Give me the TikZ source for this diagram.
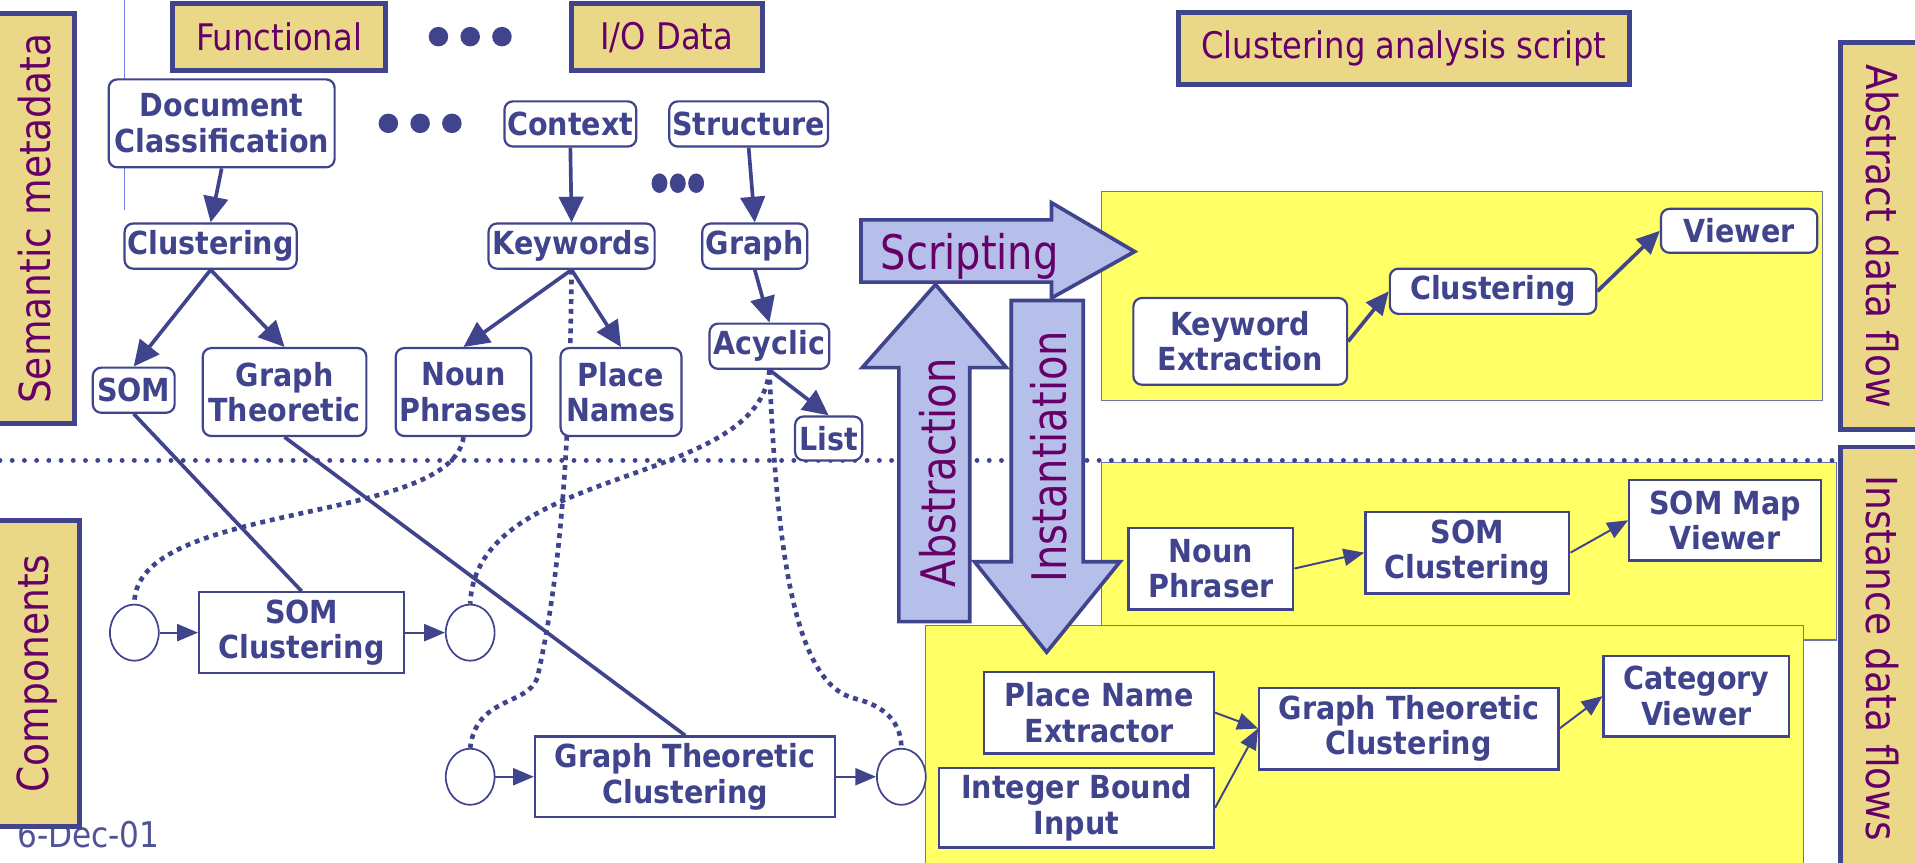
\documentclass[tikz,border=0pt]{standalone}
\usepackage{fontspec}
\usetikzlibrary{arrows.meta,shapes.geometric}
\newfontfamily\lblfont{DejaVu Sans}[FakeStretch=0.88]
\newfontfamily\bigfont{DejaVu Sans}[FakeStretch=0.84]
\newfontfamily\ndfont{DejaVu Sans}[FakeStretch=0.9]
\definecolor{ink}{RGB}{64,68,140}
\definecolor{plum}{RGB}{102,0,102}
\definecolor{labeltan}{RGB}{234,216,136}
\definecolor{lemon}{RGB}{255,255,102}
\definecolor{lav}{RGB}{182,190,234}
\definecolor{paneledge}{RGB}{110,115,175}
\definecolor{rulecol}{RGB}{110,130,225}
\definecolor{datecol}{RGB}{80,84,150}
\pgfdeclarelayer{bg}
\pgfdeclarelayer{wires}
\pgfsetlayers{bg,wires,main}
\begin{document}
\begin{tikzpicture}[x=1pt,y=-1pt,
  snode/.style={draw=ink, line width=1.8pt, fill=white, rounded corners=7pt, text=ink,
    inner sep=0pt, align=center, font={\ndfont\bfseries\fontsize{26}{29}\selectfont}},
  inode/.style={snode, sharp corners},
  toplbl/.style={draw=ink, line width=4pt, fill=labeltan, text=plum, inner sep=0pt,
    font={\lblfont\fontsize{30}{34}\selectfont}},
  sidelbl/.style={draw=ink, line width=4pt, fill=labeltan, text=plum, inner sep=0pt,
    font={\lblfont\fontsize{35}{38}\selectfont}},
  panel/.style={fill=lemon, draw=paneledge, line width=1pt, inner sep=0pt},
  port/.style={ellipse, draw=ink, line width=1.4pt, fill=white, inner sep=0pt,
    minimum width=40pt, minimum height=46pt},
  sarrow/.style={draw=ink, line width=3pt, -{Triangle[length=21pt,width=20pt]}},
  aarrow/.style={draw=ink, line width=3pt, -{Triangle[length=19pt,width=17pt]}},
  tarrow/.style={draw=ink, line width=1.6pt, -{Triangle[length=17pt,width=14pt]}},
  link/.style={draw=ink, line width=3pt},
  wire/.style={draw=ink, line width=3.8pt, dash pattern=on 4pt off 4pt},
  sepline/.style={draw=ink, line width=4pt, line cap=round, dash pattern=on 0pt off 10pt},
  bigarrow/.style={draw=ink, line width=3pt, fill=lav, line join=miter},
  bigtxt/.style={text=plum, inner sep=0pt, font={\bigfont\fontsize{39}{44}\selectfont}},
  dot/.style={fill=ink}]
\path[use as bounding box] (0,0) rectangle (1568,706);

% ---------- background: panels, separator, date ----------
\begin{pgfonlayer}{bg}
  \draw[rulecol, line width=1pt] (102,0) -- (102,172);
  \node[panel, minimum width=590pt, minimum height=171pt] (abspanel) at (1197,242.5) {};
  \node[panel, minimum width=602pt, minimum height=145pt] (instpanelA) at (1203,451.5) {};
  \node[panel, minimum width=719pt, minimum height=200pt] (instpanelB) at (1117.5,612) {};
  \draw[sepline] (0,377) -- (1507,377);
  \node[anchor=base west, inner sep=0pt, text=datecol,
        font={\lblfont\fontsize{29}{32}\selectfont}] (date) at (14,694) {6-Dec-01};
\end{pgfonlayer}

% ---------- side and top labels ----------
\node[sidelbl, rotate=90, minimum width=336pt, minimum height=66pt] (semlbl) at (28,179) {Semantic metadata};
\node[sidelbl, rotate=90, minimum width=251pt, minimum height=70pt] (complbl) at (30,551.5) {Components};
\node[sidelbl, rotate=-90, minimum width=317pt, minimum height=68pt] (abslbl) at (1541,193.5) {Abstract data flow};
\node[sidelbl, rotate=-90, minimum width=346pt, minimum height=68pt] (instlbl) at (1541,539) {Instance data flows};

\node[toplbl, minimum width=175pt, minimum height=55pt] (func) at (228.5,30.5) {Functional};
\node[toplbl, minimum width=156pt, minimum height=55pt] (iodata) at (546,30.5) {I/O Data};
\node[toplbl, minimum width=369pt, minimum height=59pt] (cas) at (1149.5,39.5) {Clustering analysis script};

% ellipsis marks
\fill[dot] (359,30) circle[radius=8pt];
\fill[dot] (385,30) circle[radius=8pt];
\fill[dot] (411,30) circle[radius=8pt];
\fill[dot] (318,101) circle[radius=8pt];
\fill[dot] (344,101) circle[radius=8pt];
\fill[dot] (370,101) circle[radius=8pt];
\fill[dot] (540,150) ellipse[x radius=6.5pt, y radius=8pt];
\fill[dot] (555,150) ellipse[x radius=6.5pt, y radius=8pt];
\fill[dot] (570,150) ellipse[x radius=6.5pt, y radius=8pt];

% ---------- semantic metadata tree ----------
\node[snode, minimum width=185pt, minimum height=72pt] (doc) at (181.5,101) {Document\\Classification};
\node[snode, minimum width=108pt, minimum height=37pt] (ctx) at (467,101.5) {Context};
\node[snode, minimum width=130pt, minimum height=37pt] (struct) at (613,101.5) {Structure};
\node[snode, minimum width=141pt, minimum height=37pt] (sclu) at (172.5,201.5) {Clustering};
\node[snode, minimum width=136pt, minimum height=37pt] (kw) at (468,201.5) {Keywords};
\node[snode, minimum width=86pt, minimum height=37pt] (graph) at (618,201.5) {Graph};
\node[snode, minimum width=67pt, minimum height=37pt] (som) at (109.5,319.5) {SOM};
\node[snode, minimum width=134pt, minimum height=72pt] (gt) at (233,321) {Graph\\Theoretic};
\node[snode, minimum width=111pt, minimum height=72pt] (np) at (379.5,321) {Noun\\Phrases};
\node[snode, minimum width=99pt, minimum height=72pt] (pn) at (508.5,321) {Place\\Names};
\node[snode, minimum width=98pt, minimum height=37pt] (acy) at (630,283.5) {Acyclic};
\node[snode, minimum width=55pt, minimum height=36pt] (lst) at (678.5,359) {List};

\draw[sarrow] (doc.south) -- (sclu.north);
\draw[sarrow] (ctx.south) -- (kw.north);
\draw[sarrow] (struct.south) -- (graph.north);
\draw[sarrow] (sclu.south) -- (som.north);
\draw[sarrow] (sclu.south) -- (gt.north);
\draw[sarrow] (kw.south) -- (np.north);
\draw[sarrow] (kw.south) -- (pn.north);
\draw[sarrow] (graph.south) -- (acy.north);
\draw[sarrow] (acy.south) -- (lst.north);

% ---------- components ----------
\node[port] (c1) at (110,518) {};
\node[port] (c2) at (385,518) {};
\node[port] (c3) at (385,636) {};
\node[port] (c4) at (738,636) {};
\node[inode, minimum width=168pt, minimum height=66pt] (sc) at (247,518) {SOM\\Clustering};
\node[inode, minimum width=246pt, minimum height=66pt] (gtc) at (561,636) {Graph Theoretic\\Clustering};

\draw[tarrow] (c1.east) -- (sc.west);
\draw[tarrow] (sc.east) -- (c2.west);
\draw[tarrow] (c3.east) -- (gtc.west);
\draw[tarrow] (gtc.east) -- (c4.west);

% links from metadata to components
\begin{pgfonlayer}{wires}
  \draw[link] (som.south) -- (sc.north);
  \draw[link] (gt.south) -- (gtc.north);
  \draw[wire] (np.south) .. controls (370,430) and (110,410) .. (c1.north);
  \draw[wire] (acy.south) .. controls (622,400) and (390,380) .. (c2.north);
  \draw[wire] (kw.south) .. controls (466,420) and (452,500) .. (440,555)
              .. controls (432,578) and (390,570) .. (c3.north);
  \draw[wire] (acy.south) .. controls (636,450) and (650,560) .. (700,572)
              .. controls (725,578) and (738,592) .. (c4.north);
\end{pgfonlayer}

% ---------- abstract data flow ----------
\node[snode, minimum width=175pt, minimum height=71pt] (ke) at (1015.5,279.5) {Keyword\\Extraction};
\node[snode, minimum width=169pt, minimum height=37pt] (aclu) at (1222.5,238.5) {Clustering};
\node[snode, minimum width=128pt, minimum height=36pt] (view) at (1424,189) {Viewer};
\draw[aarrow] (ke.east) -- (aclu.west);
\draw[aarrow] (aclu.east) -- (view.west);

% ---------- instance data flows ----------
\node[inode, minimum width=135pt, minimum height=67pt] (nph) at (991.5,465.5) {Noun\\Phraser};
\node[inode, minimum width=167pt, minimum height=67pt] (isc) at (1201.5,452.5) {SOM\\Clustering};
\node[inode, minimum width=157pt, minimum height=66pt] (smv) at (1412.5,426) {SOM Map\\Viewer};
\node[inode, minimum width=188pt, minimum height=67pt] (pne) at (900,583.5) {Place Name\\Extractor};
\node[inode, minimum width=225pt, minimum height=65pt] (ibi) at (881.5,661.5) {Integer Bound\\Input};
\node[inode, minimum width=245pt, minimum height=67pt] (igtc) at (1153.5,596.5) {Graph Theoretic\\Clustering};
\node[inode, minimum width=152pt, minimum height=66pt] (cv) at (1389,570) {Category\\Viewer};
\draw[tarrow] (nph.east) -- (isc.west);
\draw[tarrow] (isc.east) -- (smv.west);
\draw[tarrow] (pne.east) -- (igtc.west);
\draw[tarrow] (ibi.east) -- (igtc.west);
\draw[tarrow] (igtc.east) -- (cv.west);

% ---------- block arrows ----------
\draw[bigarrow] (705,180) -- (861,180) -- (861,166) -- (929,206) -- (861,244) -- (861,231) -- (705,231) -- cycle;
\node[bigtxt, anchor=base] (scripting) at (794,221) {Scripting};
\draw[bigarrow] (828,246) -- (887,246) -- (887,460) -- (917,460) -- (857,534) -- (798,460) -- (828,460) -- cycle;
\node[bigtxt, rotate=90, anchor=base] (inst) at (873,374) {Instantiation};
\draw[bigarrow] (736,509) -- (736,301) -- (706,301) -- (766,233) -- (824,301) -- (794,301) -- (794,509) -- cycle;
\node[bigtxt, rotate=90, anchor=base] (abstr) at (782,387) {Abstraction};
\end{tikzpicture}
\end{document}
